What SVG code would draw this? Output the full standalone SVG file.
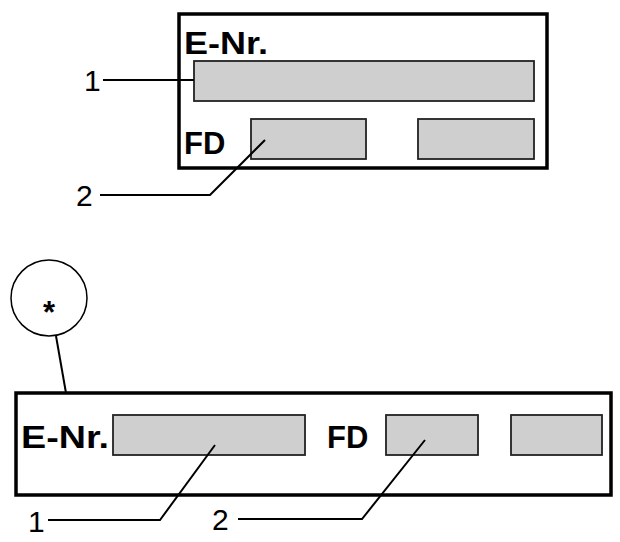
<svg xmlns="http://www.w3.org/2000/svg" width="620" height="542" viewBox="0 0 620 542">
<style>
.frame{fill:#fff;stroke:#000;stroke-width:3.5}
.field{fill:#cfcfcf;stroke:#222;stroke-width:1.8}
.lbl{font-family:"Liberation Sans",Arial,sans-serif;font-weight:bold;font-size:31px;fill:#000}
.num{font-family:"Liberation Sans",Arial,sans-serif;font-size:30px;fill:#000}
.ln{fill:none;stroke:#000;stroke-width:2}
</style>
<rect width="620" height="542" fill="#fff"/>
<g id="top-plate">
<rect class="frame" x="179" y="14" width="368" height="154"/>
<text class="lbl" x="184" y="54" textLength="84" lengthAdjust="spacingAndGlyphs">E-Nr.</text>
<rect class="field" x="194" y="61" width="340" height="40"/>
<text class="lbl" x="184" y="154">FD</text>
<rect class="field" x="251" y="119" width="115" height="40"/>
<rect class="field" x="418" y="119" width="116" height="40"/>
</g>
<g id="top-callouts">
<text class="num" x="84" y="91">1</text>
<text class="num" x="76" y="206">2</text>
</g>
<g id="bottom-plate">
<rect class="frame" x="16" y="393" width="595" height="102"/>
<text class="lbl" x="21" y="448" textLength="88" lengthAdjust="spacingAndGlyphs">E-Nr.</text>
<rect class="field" x="113" y="415" width="192" height="40"/>
<text class="lbl" x="327" y="448">FD</text>
<rect class="field" x="386" y="415" width="92" height="40"/>
<rect class="field" x="511" y="415" width="91" height="40"/>
</g>
<g id="star">
<circle cx="49" cy="298" r="38" fill="#fff" stroke="#000" stroke-width="1.5"/>
<text class="lbl" x="49" y="323" text-anchor="middle" font-size="100">*</text>
</g>
<g id="bottom-callouts">
<text class="num" x="28" y="532">1</text>
<text class="num" x="212" y="530">2</text>
</g>
<g id="connectors">
<path class="ln" d="M103 80H194"/>
<path class="ln" d="M100 195H210L265 140"/>
<path class="ln" d="M56 336L66 393"/>
<path class="ln" d="M48 520H160L215 445"/>
<path class="ln" d="M238 519H362L425 440"/>
</g>
</svg>
